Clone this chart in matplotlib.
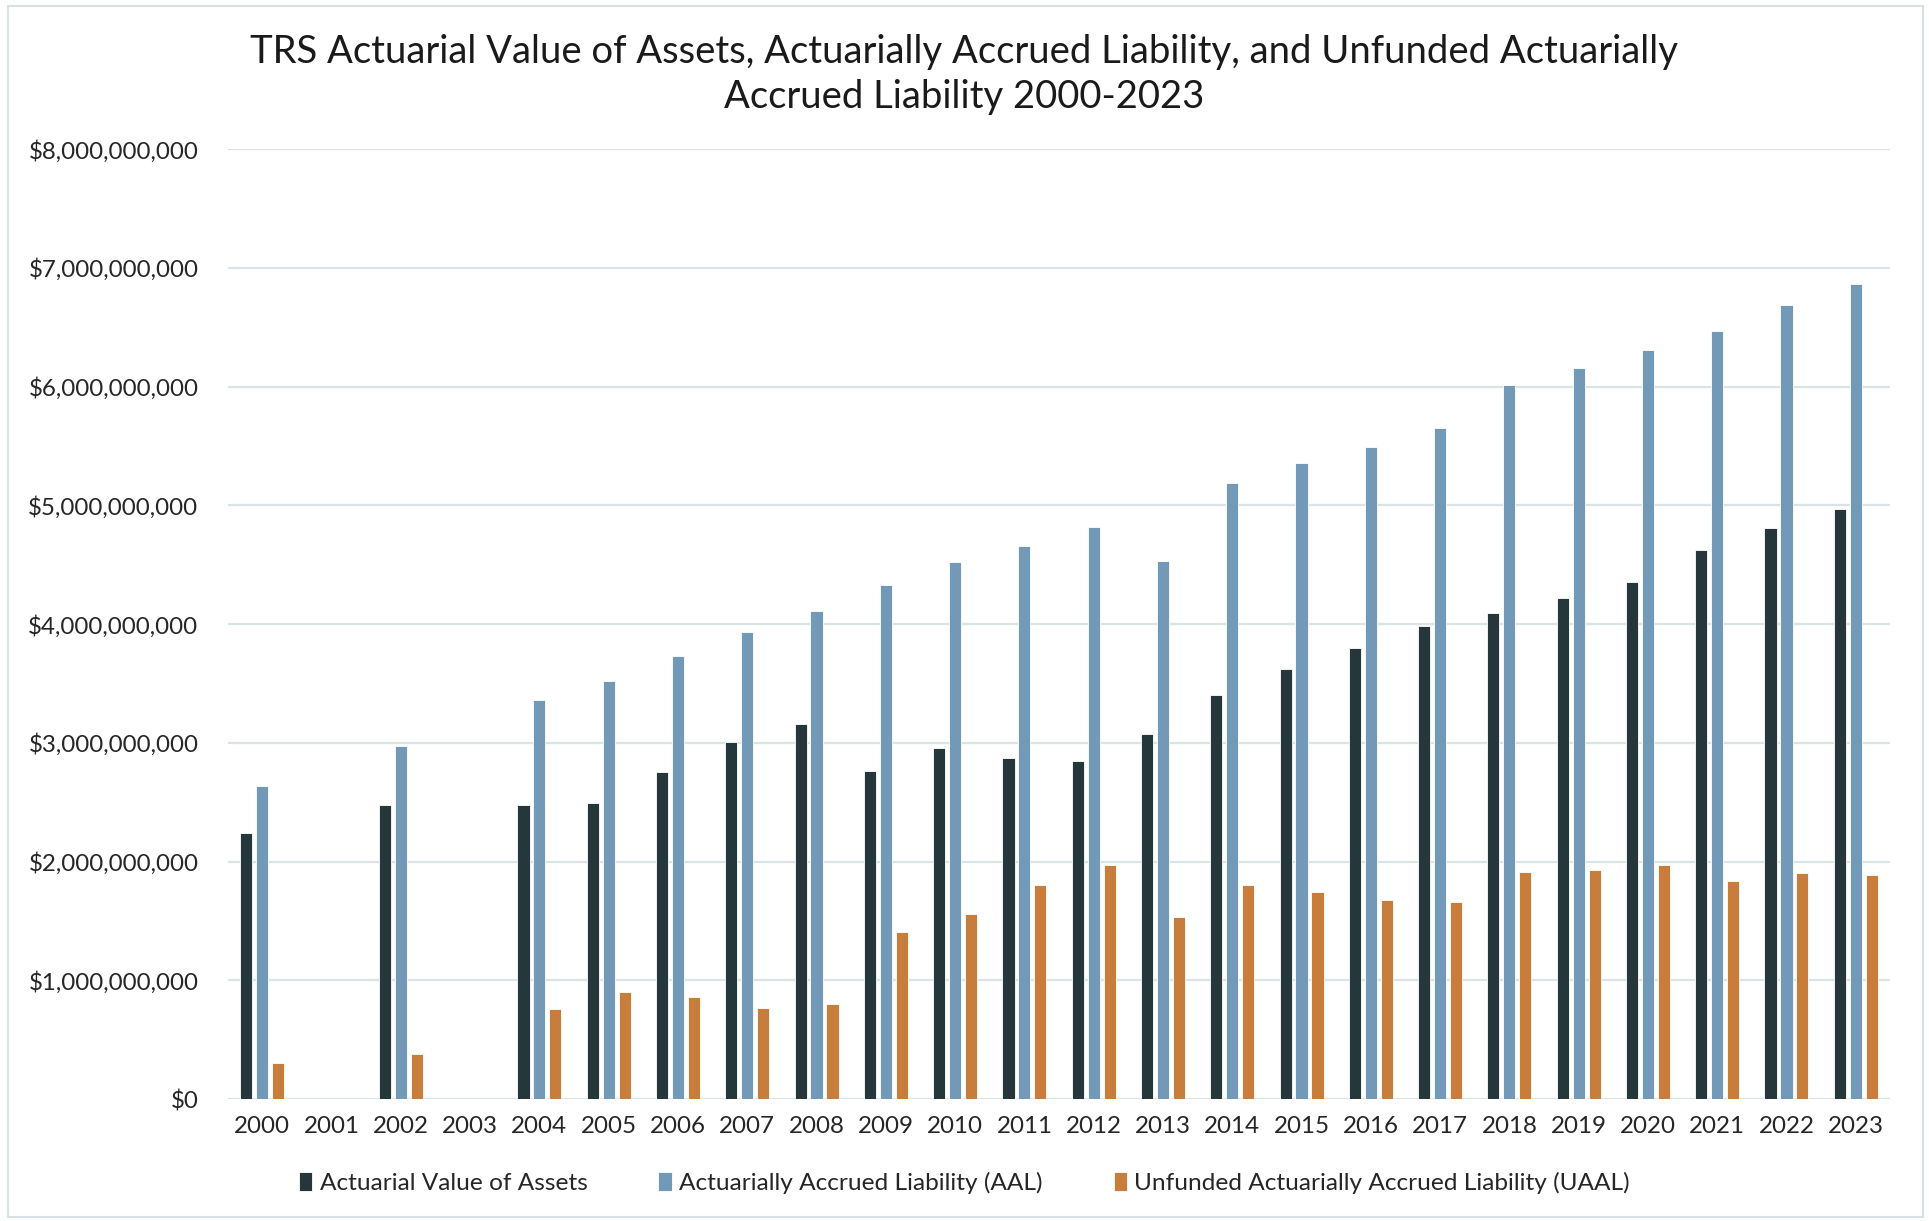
import numpy as np
import matplotlib
matplotlib.use("Agg")
import matplotlib.pyplot as plt
from matplotlib.patches import Rectangle
from matplotlib.ticker import FuncFormatter

plt.rcParams['font.family'] = ['Lato', 'DejaVu Sans']

years = [str(y) for y in range(2000, 2024)]

# values in billions of dollars (2001 and 2003 have no data)
assets = [2.24, 0, 2.48, 0, 2.48, 2.49, 2.75, 3.01, 3.16, 2.76, 2.96, 2.87,
          2.85, 3.07, 3.40, 3.62, 3.80, 3.98, 4.09, 4.22, 4.35, 4.62, 4.81, 4.97]
aal = [2.64, 0, 2.97, 0, 3.36, 3.52, 3.73, 3.93, 4.11, 4.33, 4.52, 4.66,
       4.82, 4.53, 5.19, 5.36, 5.49, 5.65, 6.01, 6.16, 6.31, 6.47, 6.69, 6.86]
uaal = [0.30, 0, 0.38, 0, 0.76, 0.90, 0.86, 0.77, 0.80, 1.41, 1.56, 1.80,
        1.97, 1.53, 1.80, 1.74, 1.68, 1.66, 1.91, 1.93, 1.97, 1.84, 1.90, 1.89]

series = [("Actuarial Value of Assets", assets, "#26373c"),
          ("Actuarially Accrued Liability (AAL)", aal, "#7299b7"),
          ("Unfunded Actuarially Accrued Liability (UAAL)", uaal, "#c87d3b")]

fig = plt.figure(figsize=(19.29, 12.21), dpi=100)
ax = fig.add_axes([0.118, 0.0999, 0.862, 0.778])

x = np.arange(len(years))
w = 0.175
for i, (name, vals, col) in enumerate(series):
    ax.bar(x + (i - 1) * 0.23, np.array(vals) * 1e9, width=w, color=col,
           edgecolor="white", linewidth=0.6, label=name, zorder=3)

ax.set_xlim(-0.5, len(years) - 0.5)
ax.set_ylim(0, 8e9)
ax.set_yticks(np.arange(0, 8.01e9, 1e9))
ax.yaxis.set_major_formatter(FuncFormatter(lambda v, p: f"${v:,.0f}"))
ax.set_xticks(x)
ax.set_xticklabels(years)
ax.grid(axis="y", color="#d9e4e6", linewidth=1.6, zorder=0)
ax.set_axisbelow(True)
for s in ax.spines.values():
    s.set_visible(False)
ax.tick_params(length=0, labelsize=17.4, colors="#262626")
ax.tick_params(axis="y", pad=21)
ax.tick_params(axis="x", pad=12)

fig.text(0.5, 0.939, "TRS Actuarial Value of Assets, Actuarially Accrued Liability, and Unfunded Actuarially\nAccrued Liability 2000-2023",
         ha="center", va="center", fontsize=27.5, color="#1a1a1a", linespacing=1.33)

fig.legend(loc="center", bbox_to_anchor=(0.5, 0.031), ncol=3, frameon=False,
           fontsize=17.6, handlelength=0.55, handleheight=0.8, handletextpad=0.3,
           columnspacing=2.9, labelcolor="#262626")

fig.patches.append(Rectangle((0.004, 0.003), 0.993, 0.992, transform=fig.transFigure,
                             fill=False, edgecolor="#d5e1e3", linewidth=1.5))

fig.savefig("out.png", dpi=100)
